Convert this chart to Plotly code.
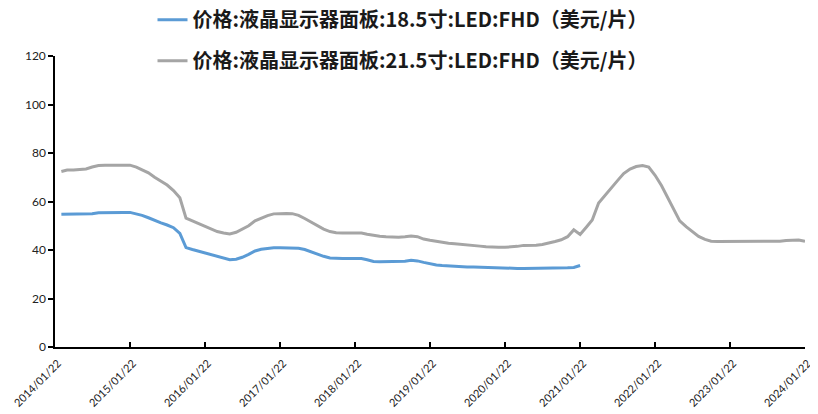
import plotly.graph_objects as go
import pandas as pd

# monthly dates (22nd of each month)
dates_gray = pd.date_range("2014-01-22", "2024-01-22", freq="MS") + pd.Timedelta(days=21)
dates_gray = [d.strftime("%Y-%m-%d") for d in dates_gray]

price_21_5 = [
    # 2014
    72.4, 73.0, 73.0, 73.2, 73.4, 74.2, 74.8, 75.0, 75.0, 75.1, 75.1, 75.0,
    # 2015
    74.2, 73.0, 71.8, 70.0, 68.4, 66.8, 64.5, 61.5, 53.1, 52.0, 51.0, 49.6,
    # 2016
    48.5, 47.6, 47.0, 46.6, 47.3, 48.6, 50.0, 52.0, 53.2, 54.2, 54.9, 55.1,
    # 2017
    55.1, 55.0, 54.3, 53.0, 51.5, 50.0, 48.6, 47.6, 47.1, 47.0, 47.0, 47.0,
    # 2018
    47.0, 46.5, 46.0, 45.7, 45.5, 45.3, 45.3, 45.5, 45.8, 45.5, 44.5, 44.0,
    # 2019
    43.5, 43.1, 42.8, 42.6, 42.4, 42.2, 42.0, 41.6, 41.3, 41.1, 41.1, 41.1,
    # 2020
    41.2, 41.5, 41.9, 41.9, 42.0, 42.3, 42.8, 43.5, 44.2, 45.5, 48.3, 46.4,
    # 2021
    49.5, 52.4, 59.4, 62.5, 65.5, 68.5, 71.5, 73.4, 74.4, 74.8, 74.2, 70.8,
    # 2022
    66.6, 62.0, 57.0, 52.0, 49.6, 47.6, 45.6, 44.4, 43.6, 43.5, 43.5, 43.5,
    # 2023
    43.5, 43.5, 43.5, 43.5, 43.5, 43.5, 43.5, 43.6, 43.9, 44.1, 44.1, 43.6,
    # 2024
    43.3,
]

dates_blue = dates_gray[:84]
price_18_5 = [
    # 2014
    54.7, 54.7, 54.7, 54.7, 54.7, 55.0, 55.4, 55.5, 55.5, 55.5, 55.5, 55.5,
    # 2015
    55.0, 54.3, 53.3, 52.2, 51.2, 50.3, 49.2, 46.8, 41.0, 40.2, 39.5, 38.7,
    # 2016
    38.0, 37.3, 36.6, 36.0, 36.2, 37.0, 38.2, 39.6, 40.3, 40.7, 40.9, 40.9,
    # 2017
    40.9, 40.9, 40.7, 40.2, 39.2, 38.3, 37.4, 36.7, 36.5, 36.5, 36.5, 36.5,
    # 2018
    36.5, 36.0, 35.3, 35.2, 35.2, 35.2, 35.2, 35.4, 35.8, 35.5, 34.9, 34.3,
    # 2019
    33.8, 33.6, 33.4, 33.2, 33.1, 33.0, 33.0, 32.9, 32.7, 32.5, 32.4, 32.4,
    # 2020
    32.4, 32.4, 32.4, 32.4, 32.4, 32.4, 32.4, 32.5, 32.7, 32.7, 32.8, 33.6,
]

tick_vals = [f"{y}-01-22" for y in range(2014, 2025)]
tick_text = [f"{y}/01/22" for y in range(2014, 2025)]

name_blue = "价格:液晶显示器面板:18.5寸:LED:FHD（美元/片）"
name_gray = "价格:液晶显示器面板:21.5寸:LED:FHD（美元/片）"

font_family = "Noto Sans CJK SC, Noto Sans, sans-serif"
tick_font = "Lato, Open Sans, sans-serif"

fig = go.Figure()
fig.add_trace(go.Scatter(
    x=dates_blue, y=price_18_5, mode="lines", name=name_blue,
    line=dict(color="#5B9BD5", width=3), legend="legend",
))
fig.add_trace(go.Scatter(
    x=dates_gray, y=price_21_5, mode="lines", name=name_gray,
    line=dict(color="#A5A5A5", width=3), legend="legend2",
))

legend_common = dict(
    font=dict(family=font_family, size=20, color="#1a1a1a", weight="bold"),
    bgcolor="rgba(0,0,0,0)", xanchor="left", yanchor="middle",
    itemwidth=30,
)

# page body has an 8px margin, so the figure is 8px smaller than the window
fig.update_layout(
    width=810, height=406,
    margin=dict(l=47, r=13, t=48, b=67, autoexpand=False),
    paper_bgcolor="white", plot_bgcolor="white",
    font=dict(family=font_family, size=12, color="#222"),
    showlegend=True,
    legend=dict(x=0.13, y=1.125, **legend_common),
    legend2=dict(x=0.13, y=0.984, **legend_common),
    xaxis=dict(
        type="date",
        range=["2014-01-22", "2024-01-22"],
        tickvals=tick_vals, ticktext=tick_text,
        tickangle=-45, automargin=False,
        ticklabelstandoff=4, ticklabelshift=3, ticklabeloverflow="allow",
        showline=True, linecolor="black", linewidth=1.5,
        ticks="inside", ticklen=5, tickcolor="black", tickwidth=1.5,
        showgrid=False, zeroline=False,
        tickfont=dict(size=11, family=tick_font, color="#222"),
    ),
    yaxis=dict(
        range=[0, 120], dtick=20, automargin=False,
        showline=True, linecolor="black", linewidth=1.5,
        ticks="outside", ticklen=5, tickcolor="black", tickwidth=1.5,
        showgrid=False, zeroline=False,
        tickfont=dict(size=12, family=tick_font, color="#222"),
    ),
)

fig.write_html("out.html")
